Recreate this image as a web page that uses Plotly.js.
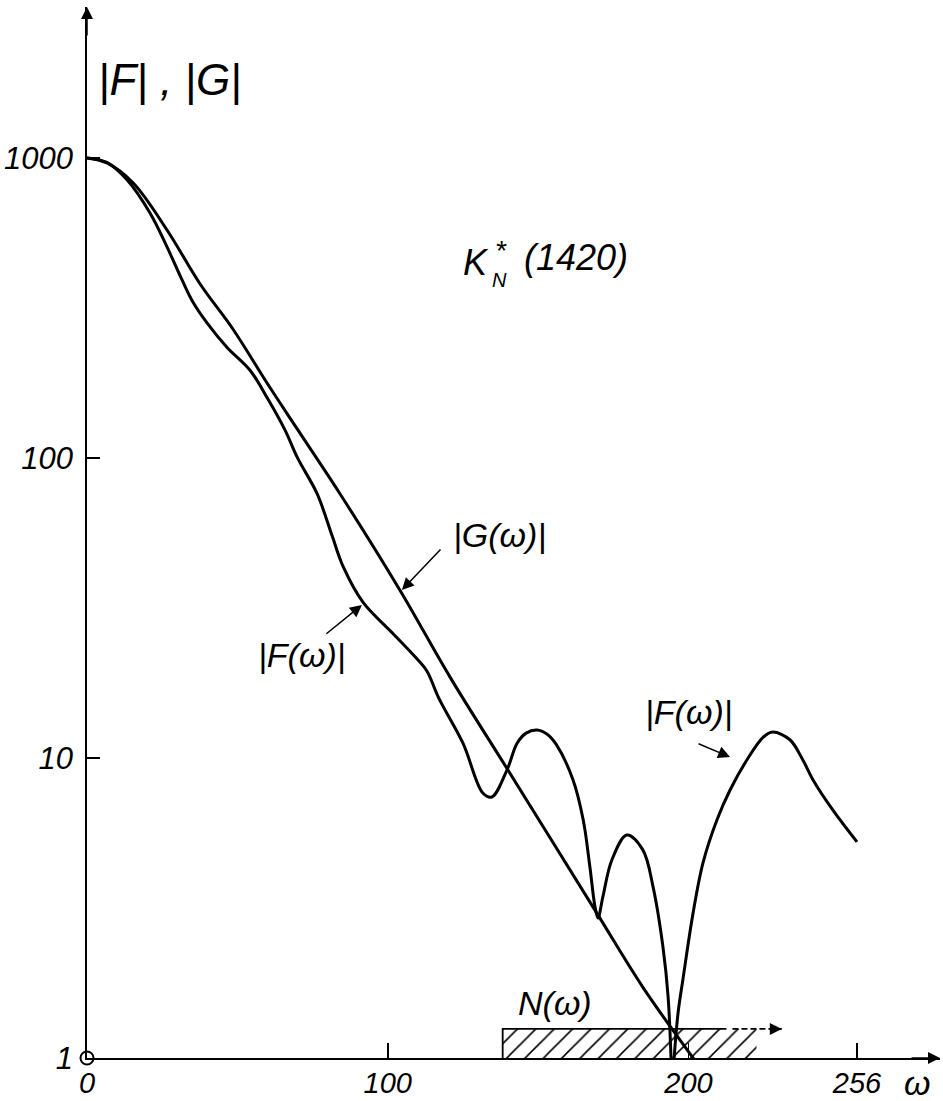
<!DOCTYPE html>
<html>
<head>
<meta charset="utf-8">
<script src="https://cdn.plot.ly/plotly-3.0.1.min.js"></script>
<style>html,body{margin:0;padding:0;background:#fff;}#chart{width:943px;height:1101px;}</style>
</head>
<body>
<div id="chart"></div>
<script>
// ---- data ----
const omegaG = [0, 6.6, 15.3, 26.6, 37.6, 48.5, 59.8, 70.1, 84.1, 104, 120.7, 140, 169.5, 185, 202];
const magG   = [1000, 962, 826, 575, 380, 269, 178, 124, 76, 36.3, 18.6, 9.1, 3.04, 1.71, 0.985];

const omegaF = [0, 6.6, 13.3, 20.9, 26.6, 31.6, 35.2, 39.9, 46.5, 54.2, 60, 65.8, 70, 76.5, 81.5, 85.1, 91.8, 101.7, 109.7, 113, 117, 125, 131.6, 134.6, 139.6, 143, 146, 149.6, 153, 156, 161.6, 165, 167.2, 168.9, 169.9, 171.5, 174.5, 179.5, 184.8, 188.2, 191.5, 193.2, 194.5, 196.5, 198.1, 201.5, 204.8, 209.4, 213.8, 219.4, 224.7, 228, 233.7, 238, 241.4, 248, 256];
const magF   = [1000, 966, 845, 656, 505, 392, 331, 282, 234, 196, 158, 124, 100, 76, 55, 43.6, 33, 26, 21.4, 19.5, 15.8, 11.2, 7.64, 7.41, 9.1, 11.2, 12.1, 12.4, 12.0, 11.1, 8.45, 6.2, 4.33, 3.19, 2.93, 3.44, 4.57, 5.54, 4.94, 3.72, 2.34, 1.6, 0.8, 1.41, 1.82, 3.04, 4.47, 6.2, 7.82, 9.85, 11.7, 12.2, 11.5, 9.85, 8.45, 6.7, 5.25];

// noise band N(omega)
const noiseBandX = [138.2, 222.6];
const noiseArrowEnd = 231;
const noiseSolidEnd = 212.6;
const noiseLevel = 1.25;

const xTickVals = [0, 100, 200, 256];
const xTickText = ['0', '100', '200', '256'];
const yTickVals = [1, 10, 100, 1000];
const yTickText = ['1', '10', '100', '1000'];

const xMax = 283.6;
const yLogMax = 3.503;

// ---- build ----
const FONT = 'Liberation Sans Narrow, Liberation Sans, Arial, sans-serif';
const lineStyle = {color: '#000', width: 3, shape: 'spline', smoothing: 1};

// split F at its deepest notch so the cusp stays sharp
let cut = 0;
magF.forEach((v, i) => { if (v < magF[cut]) cut = i; });

const traces = [
  { // hatched noise band
    x: [noiseBandX[0], noiseBandX[1], noiseBandX[1], noiseBandX[0], noiseBandX[0]],
    y: [1, 1, noiseLevel, noiseLevel, 1],
    mode: 'lines', fill: 'toself', fillcolor: 'rgba(0,0,0,0)',
    fillpattern: {shape: '/', fgcolor: '#000', bgcolor: 'rgba(255,255,255,0)', size: 13, solidity: 0.12},
    line: {width: 0}, hoverinfo: 'skip', showlegend: false
  },
  { // band outline (left + top)
    x: [noiseBandX[0], noiseBandX[0], noiseSolidEnd],
    y: [1, noiseLevel, noiseLevel],
    mode: 'lines', line: {color: '#000', width: 1.8}, showlegend: false
  },
  { // dashed continuation of band top
    x: [noiseSolidEnd + 2, noiseArrowEnd],
    y: [noiseLevel, noiseLevel],
    mode: 'lines', line: {color: '#000', width: 1.8, dash: '6px,3px'}, showlegend: false
  },
  { x: omegaG, y: magG, mode: 'lines', line: lineStyle, name: '|G(ω)|', showlegend: false },
  { x: omegaF.slice(0, cut + 1), y: magF.slice(0, cut + 1), mode: 'lines', line: lineStyle, name: '|F(ω)|', showlegend: false },
  { x: omegaF.slice(cut), y: magF.slice(cut), mode: 'lines', line: lineStyle, name: '|F(ω)|', showlegend: false },
  { // origin marker
    x: [xTickVals[0]], y: [yTickVals[0]], mode: 'markers', cliponaxis: false,
    marker: {symbol: 'circle-open', size: 13, color: '#000', line: {width: 2, color: '#000'}},
    showlegend: false
  }
];

const L = Math.log10;
const txt = (text, x, ylog, size) => ({
  text: text, x: x, y: ylog, xref: 'x', yref: 'y', showarrow: false,
  xanchor: 'center', yanchor: 'middle',
  font: {family: FONT, size: size, color: '#000', style: 'italic'}
});
const ptxt = (text, x, y, size) => ({
  text: text, x: x, y: y, xref: 'paper', yref: 'paper', showarrow: false,
  xanchor: 'center', yanchor: 'middle',
  font: {family: FONT, size: size, color: '#000', style: 'italic'}
});
const arrow = (x, ylog, ax, ay, head) => ({
  text: '', x: x, y: ylog, xref: 'x', yref: 'y', ax: ax, ay: ay, showarrow: true,
  arrowhead: head, arrowsize: 1.6, arrowwidth: 1.5, arrowcolor: '#000'
});

const annotations = [
  txt('|<i>F</i>| , |<i>G</i>|', 27.6, 3.26, 44),
  txt('K', 129.3, 2.653, 36),
  txt('*', 137.6, 2.693, 28),
  txt('N', 137.3, 2.593, 20),
  txt('(1420)', 162.6, 2.667, 36),
  txt('|G(ω)|', 137.3, 1.743, 34),
  txt('|F(ω)|', 71.5, 1.343, 34),
  txt('|F(ω)|', 200.1, 1.153, 34),
  txt('N(ω)', 155.6, 0.183, 34),
  ptxt('ω', 0.973, -0.024, 34),
  arrow(104.7, 1.56, 40, -42, 2),
  arrow(91.4, 1.51, -37, 30, 2),
  arrow(213.8, 1.003, -33, -14, 2),
  arrow(noiseArrowEnd, L(noiseLevel), -14, 0, 2),
  arrow(xMax, 0, -30, 0, 2),
  arrow(0, yLogMax, 0, 30, 2)
];

const layout = {
  width: 943, height: 1101,
  margin: {l: 87, r: 3, t: 7, b: 43},
  paper_bgcolor: '#fff', plot_bgcolor: '#fff',
  font: {family: FONT, color: '#000'},
  xaxis: {
    range: [0, xMax], showgrid: false, zeroline: false,
    showline: true, linecolor: '#000', linewidth: 1.8,
    tickvals: xTickVals, ticktext: xTickText,
    ticks: 'inside', ticklen: 15, tickwidth: 1.5, tickcolor: '#000',
    tickfont: {family: FONT, size: 29, style: 'italic', color: '#000'},
    ticklabelstandoff: -2
  },
  yaxis: {
    type: 'log', range: [0, yLogMax], showgrid: false, zeroline: false,
    showline: true, linecolor: '#000', linewidth: 1.8,
    tickvals: yTickVals, ticktext: yTickText,
    ticks: 'inside', ticklen: 13, tickwidth: 1.5, tickcolor: '#000',
    tickfont: {family: FONT, size: 31, style: 'italic', color: '#000'},
    ticklabelstandoff: 6
  },
  annotations: annotations,
  showlegend: false
};

Plotly.newPlot('chart', traces, layout, {staticPlot: true});
</script>
</body>
</html>
